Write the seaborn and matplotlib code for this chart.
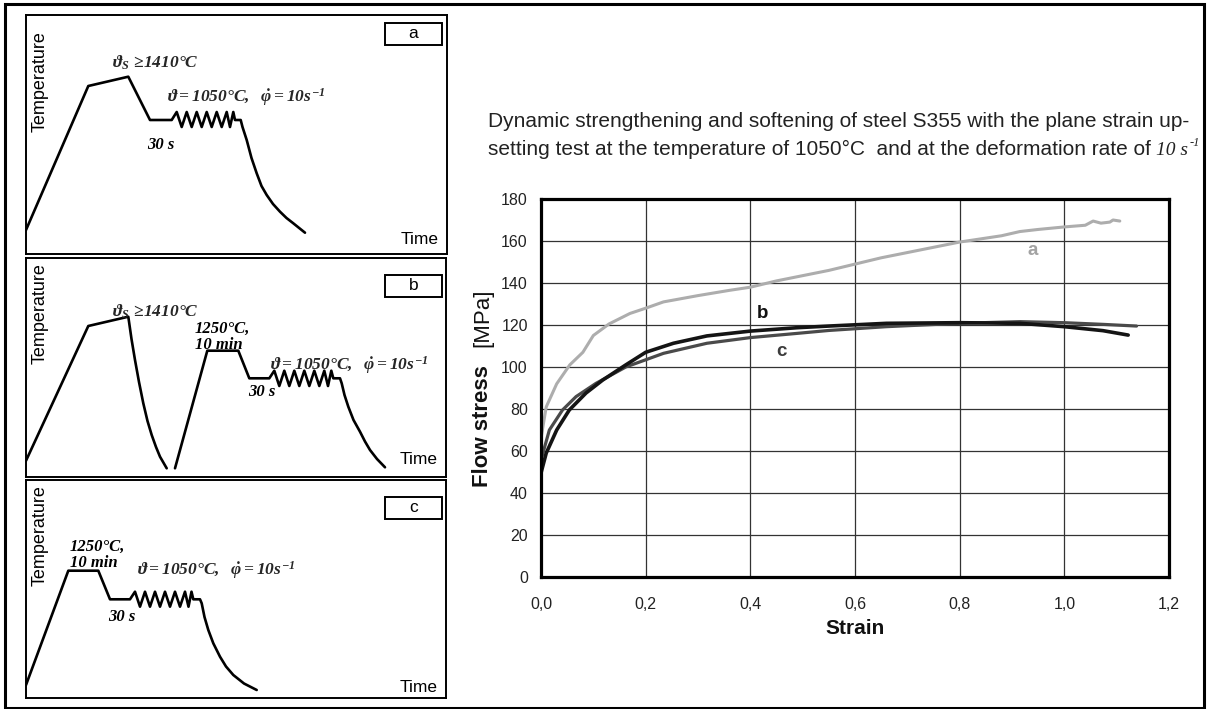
import matplotlib
matplotlib.use("Agg")
import matplotlib.pyplot as plt
from matplotlib.patches import Rectangle
import seaborn as sns

# ---------------- flow curves (strain, flow stress in MPa) ----------------
strain_a = [0.0, 0.01, 0.03, 0.055, 0.08, 0.10, 0.13, 0.17, 0.20, 0.234, 0.30, 0.36,
            0.40, 0.45, 0.50, 0.55, 0.60, 0.65, 0.70, 0.724, 0.75, 0.80, 0.84, 0.88,
            0.915, 0.95, 1.00, 1.04, 1.055, 1.07, 1.087, 1.093, 1.106]
stress_a = [66, 81, 92, 101, 107, 115, 120.5, 125.5, 128, 131, 134, 136.5,
            138, 141, 143.5, 146, 149, 152, 154.5, 155.7, 157, 159.5, 161, 162.5,
            164.5, 165.5, 166.7, 167.5, 169.5, 168.5, 169, 170, 169.5]

strain_b = [0.0, 0.01, 0.03, 0.054, 0.086, 0.118, 0.162, 0.20, 0.253, 0.317, 0.40,
            0.489, 0.55, 0.66, 0.80, 0.915, 1.00, 1.074, 1.122]
stress_b = [49.5, 59, 70, 79.5, 87.6, 93.8, 101, 107, 111.3, 114.8, 117.1,
            118.7, 119.5, 120.8, 121.1, 120.8, 119.2, 117.3, 115.2]

strain_c = [0.0, 0.016, 0.041, 0.067, 0.105, 0.162, 0.234, 0.317, 0.40, 0.489, 0.55,
            0.66, 0.80, 0.915, 1.00, 1.074, 1.138]
stress_c = [55.7, 70, 79.5, 85.9, 92.2, 100, 106.5, 111.3, 114, 116, 117.4,
            119.2, 120.8, 121.6, 121.1, 120.3, 119.5]

curve_names = ["a", "b", "c"]
label_strain = [0.940, 0.423, 0.459]
label_stress = [155.7, 125.7, 107.6]

x_ticks = [0.0, 0.2, 0.4, 0.6, 0.8, 1.0, 1.2]
x_tick_labels = ["0,0", "0,2", "0,4", "0,6", "0,8", "1,0", "1,2"]
y_ticks = [0, 20, 40, 60, 80, 100, 120, 140, 160, 180]

title_line1 = "Dynamic strengthening and softening of steel S355 with the plane strain up-"
title_line2 = "setting test at the temperature of 1050°C  and at the deformation rate of"
title_rate = "10 s"
title_rate_exp = "-1"

# ---------------- schematic schedules (arbitrary time / temperature units) ----------------
sched_a_time = [0, 62.3, 102.3, 124, 145.7, 150.7, 155.7, 160.7, 165.7, 170.7, 175.7, 180.7,
                185.7, 190.7, 195.7, 200.7, 204, 207.3, 209, 214.7, 216.5, 220.7, 225.5,
                230.7, 235.5, 240.7, 247, 254, 260.5, 267.3, 279]
sched_a_temp = [24, 168, 177.3, 134, 134, 142, 127, 142, 127, 142, 127, 142,
                127, 142, 127, 142, 127, 142, 134, 134, 127, 114, 96,
                80.7, 68, 59, 50, 42.3, 36, 30.7, 21.3]

sched_b1_time = [0, 62.3, 102.3, 105.5, 109, 113, 117.3, 121.5, 125.7, 130, 134, 140.7]
sched_b1_temp = [16.3, 151, 160.3, 138, 117, 95, 73.7, 56, 42, 30, 20.3, 8.7]
sched_b2_time = [149, 181.3, 212.3, 223.3, 243.3, 248.3, 253.3, 258.3, 263.3, 268.3, 273.3,
                 278.3, 283.3, 288.3, 293.3, 298.3, 302, 305.3, 307.3, 314, 315.7, 318.5,
                 322.3, 327.5, 334, 339, 344, 351, 359]
sched_b2_temp = [8.7, 126.3, 126.3, 98.7, 98.7, 106.3, 91, 106.3, 91, 106.3, 91,
                 106.3, 91, 106.3, 91, 106.3, 91, 106.3, 98.7, 98.7, 93.7, 82,
                 70.3, 57, 45.3, 35.5, 27, 18, 9.7]

sched_c_time = [0, 42.3, 72.3, 84, 104, 109, 114, 119, 124, 129, 134, 139, 144, 149, 154,
                159, 162.5, 165.5, 167.3, 174, 175.7, 178.5, 182.3, 187.3, 194, 200,
                207.3, 218, 230.7]
sched_c_temp = [13, 127.3, 127.3, 98.7, 98.7, 106.3, 91.3, 106.3, 91.3, 106.3, 91.3, 106.3,
                91.3, 106.3, 91.3, 106.3, 91.3, 106.3, 98.7, 98.7, 94.7, 81, 68, 54.7,
                41.3, 31.5, 23, 14.5, 8]

# ---------------- style ----------------
sns.set_theme(style="white")
plt.rcParams["font.family"] = ["Liberation Sans", "DejaVu Sans"]
plt.rcParams["mathtext.fontset"] = "custom"
plt.rcParams["mathtext.rm"] = "Liberation Serif:italic:bold"
plt.rcParams["mathtext.it"] = "Liberation Serif:italic:bold"
plt.rcParams["mathtext.bf"] = "Liberation Serif:italic:bold"

W, H = 1207, 709
fig = plt.figure(figsize=(W / 100, H / 100), dpi=100)
fig.patch.set_facecolor("white")


def px_axes(x0, y0, x1, y1):
    return fig.add_axes([x0 / W, 1 - y1 / H, (x1 - x0) / W, (y1 - y0) / H])


# outer frame
fig.add_artist(Rectangle((4.5 / W, 1.5 / H), (1204 - 4.5) / W, (704 - 0.5) / H,
                         transform=fig.transFigure, fill=False, lw=2.2, ec="black"))

# ---------------- main chart ----------------
ax = px_axes(541, 199, 1169, 577)
colors = {"a": "#adadad", "b": "#141414", "c": "#4a4a4a"}
text_colors = {"a": "#a3a3a3", "b": "#111111", "c": "#3c3c3c"}
sns.lineplot(x=strain_a, y=stress_a, ax=ax, color=colors["a"], linewidth=2.2, sort=False, estimator=None)
sns.lineplot(x=strain_c, y=stress_c, ax=ax, color=colors["c"], linewidth=2.3, sort=False, estimator=None)
sns.lineplot(x=strain_b, y=stress_b, ax=ax, color=colors["b"], linewidth=2.6, sort=False, estimator=None)
ax.set_xlim(0, 1.2)
ax.set_ylim(0, 180)
ax.set_xticks(x_ticks)
ax.set_xticklabels(x_tick_labels)
ax.set_yticks(y_ticks)
ax.tick_params(axis="both", length=0, labelsize=11.5, colors="#222222")
ax.tick_params(axis="x", pad=14.5)
ax.tick_params(axis="y", pad=9.5)
ax.grid(True, color="#333333", linewidth=0.9)
ax.set_axisbelow(True)
for s in ax.spines.values():
    s.set_visible(True)
    s.set_color("black")
    s.set_linewidth(2.3)
ax.set_xlabel("")
ax.set_ylabel("")
for name, sx, sy in zip(curve_names, label_strain, label_stress):
    ax.text(sx, sy, name, color=text_colors[name], fontsize=13.5, fontweight="bold",
            ha="center", va="center")

fig.text(855 / W, 1 - 628 / H, "Strain", fontsize=15, fontweight="bold",
         ha="center", va="center", color="#111111")
fig.text(488 / W, 1 - 487 / H, "Flow stress", fontsize=16, fontweight="bold", rotation=90,
         rotation_mode="anchor", ha="left", va="baseline", color="#111111")
fig.text(488 / W, 1 - 347 / H, "[MPa]", fontsize=16, rotation=90,
         rotation_mode="anchor", ha="left", va="baseline", color="#111111")

# title
tc = "#222222"
fig.text(488 / W, 1 - 127 / H, title_line1, fontsize=15, color=tc, ha="left", va="baseline")
t2 = fig.text(488 / W, 1 - 155 / H, title_line2, fontsize=15, color=tc, ha="left", va="baseline")
renderer = fig.canvas.get_renderer()
bb2 = t2.get_window_extent(renderer)
t3 = fig.text((bb2.x1 + 5) / W, 1 - 155 / H, title_rate, fontsize=14, color=tc, ha="left",
              va="baseline", family="Liberation Serif", style="italic")
bb3 = t3.get_window_extent(renderer)
fig.text((bb3.x1 + 2) / W, 1 - 146 / H, title_rate_exp, fontsize=9, color=tc, ha="left",
         va="baseline", family="Liberation Serif", style="italic")

# ---------------- schematic panels ----------------
lab_s = r"$\vartheta_S\,\geq\!1410°C$"
lab_def = r"$\vartheta = 1050°C,\ \ \dot{\varphi} = 10s^{-1}$"
serif_bi = dict(family="Liberation Serif", style="italic", fontweight="bold", fontsize=12,
                color="black")


def setup_panel(p, xmax, ymax, letter, temp_y, box_y, time_y):
    p.set_xlim(0, xmax)
    p.set_ylim(0, ymax)
    p.set_xticks([])
    p.set_yticks([])
    p.set_xlabel("")
    p.set_ylabel("")
    for s in p.spines.values():
        s.set_visible(True)
        s.set_color("black")
        s.set_linewidth(1.4)
    p.text(14, temp_y, "Temperature", rotation=90, ha="center", va="center", fontsize=13,
           color="black")
    p.text(xmax - 8, time_y, "Time", ha="right", va="center", fontsize=12.5, color="black")
    p.add_patch(Rectangle((359, box_y - 11), 57, 22, fill=False, lw=1.4, ec="black"))
    p.text(387.5, box_y, letter, ha="center", va="center", fontsize=12.5, color="black")


pa = px_axes(26, 15, 447, 254)
sns.lineplot(x=sched_a_time, y=sched_a_temp, ax=pa, color="black", linewidth=1.9, sort=False, estimator=None)
setup_panel(pa, 421, 239, "a", 172, 220, 15)
pa.text(86, 191, lab_s, ha="left", va="center", fontsize=12.5)
pa.text(141, 157, lab_def, ha="left", va="center", fontsize=12.5)
pa.text(121, 109, "30 s", ha="left", va="center", **serif_bi)

pb = px_axes(26, 258, 446, 477)
sns.lineplot(x=sched_b1_time, y=sched_b1_temp, ax=pb, color="black", linewidth=1.9, sort=False, estimator=None)
sns.lineplot(x=sched_b2_time, y=sched_b2_temp, ax=pb, color="black", linewidth=1.9, sort=False, estimator=None)
setup_panel(pb, 420, 219, "b", 163.5, 191, 17)
pb.text(86, 165.3, lab_s, ha="left", va="center", fontsize=12.5)
pb.text(169, 148, "1250°C,", ha="left", va="center", **serif_bi)
pb.text(169, 132, "10 min", ha="left", va="center", **serif_bi)
pb.text(222, 85.3, "30 s", ha="left", va="center", **serif_bi)
pb.text(244, 112, lab_def, ha="left", va="center", fontsize=12.5)

pc = px_axes(26, 480, 446, 698)
sns.lineplot(x=sched_c_time, y=sched_c_temp, ax=pc, color="black", linewidth=1.9, sort=False, estimator=None)
setup_panel(pc, 420, 218, "c", 162.5, 190, 11)
pc.text(44, 151, "1250°C,", ha="left", va="center", **serif_bi)
pc.text(44, 135, "10 min", ha="left", va="center", **serif_bi)
pc.text(111, 128, lab_def, ha="left", va="center", fontsize=12.5)
pc.text(82, 81, "30 s", ha="left", va="center", **serif_bi)

fig.savefig("out.png", dpi=100)
